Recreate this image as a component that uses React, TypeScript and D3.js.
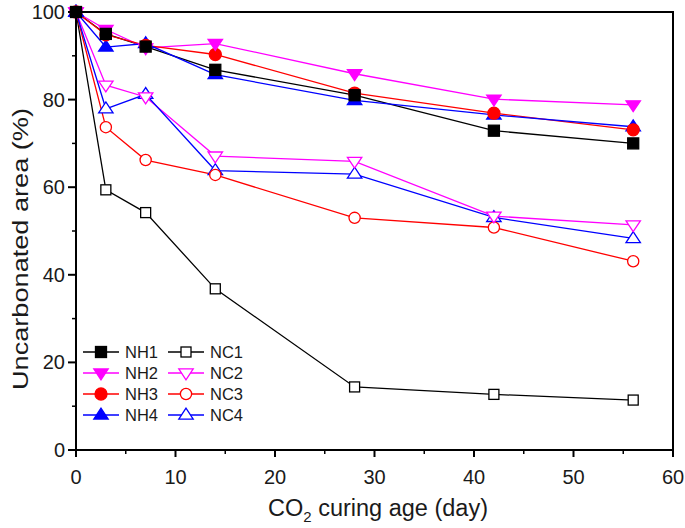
import React from "react";
import * as d3 from "d3";

const days = [0, 3, 7, 14, 28, 42, 56];
const NH1 = [100, 95.0, 92.1, 86.8, 81.0, 72.9, 70.0];
const NH2 = [100, 96.0, 91.8, 92.8, 85.9, 80.1, 78.8];
const NH3 = [100, 94.8, 92.4, 90.3, 81.5, 76.9, 73.1];
const NH4 = [100, 92.0, 92.8, 85.7, 79.8, 76.5, 73.8];
const NC1 = [100, 59.4, 54.2, 36.8, 14.4, 12.7, 11.4];
const NC2 = [100, 83.3, 80.6, 67.1, 65.9, 53.4, 51.4];
const NC3 = [100, 73.7, 66.2, 62.8, 53.0, 50.8, 43.1];
const NC4 = [100, 77.9, 81.2, 63.8, 63.0, 53.1, 48.3];

const xTicks = [0, 10, 20, 30, 40, 50, 60];
const yTicks = [0, 20, 40, 60, 80, 100];

type Shape = "square" | "down" | "circle" | "up";
const series: { name: string; values: number[]; color: string; shape: Shape; filled: boolean }[] = [
  { name: "NH1", values: NH1, color: "#000000", shape: "square", filled: true },
  { name: "NH2", values: NH2, color: "#ff00ff", shape: "down", filled: true },
  { name: "NH3", values: NH3, color: "#ff0000", shape: "circle", filled: true },
  { name: "NH4", values: NH4, color: "#0000ff", shape: "up", filled: true },
  { name: "NC1", values: NC1, color: "#000000", shape: "square", filled: false },
  { name: "NC2", values: NC2, color: "#ff00ff", shape: "down", filled: false },
  { name: "NC3", values: NC3, color: "#ff0000", shape: "circle", filled: false },
  { name: "NC4", values: NC4, color: "#0000ff", shape: "up", filled: false },
];

const W = 685, H = 528;
const L = 76, R = 673, T = 12, B = 450;

function Marker({ x, y, shape, color, filled }: { x: number; y: number; shape: Shape; color: string; filled: boolean }) {
  const fill = filled ? color : "#ffffff";
  const sw = 1.3;
  if (shape === "square") {
    const s = filled ? 11 : 10;
    return <rect x={x - s / 2} y={y - s / 2} width={s} height={s} fill={fill} stroke={color} strokeWidth={sw} />;
  }
  if (shape === "circle") {
    return <circle cx={x} cy={y} r={filled ? 6 : 5.6} fill={fill} stroke={color} strokeWidth={sw} />;
  }
  const h = 6.8;
  const w = 7.2;
  const pts =
    shape === "up"
      ? [[x, y - h], [x - w, y + h * 0.6], [x + w, y + h * 0.6]]
      : [[x, y + h], [x - w, y - h * 0.6], [x + w, y - h * 0.6]];
  return <polygon points={pts.map((p) => p.join(",")).join(" ")} fill={fill} stroke={color} strokeWidth={sw} />;
}

export default function App() {
  const x = d3.scaleLinear().domain([0, 60]).range([L, R]);
  const y = d3.scaleLinear().domain([0, 100]).range([B, T]);
  const line = d3
    .line<number>()
    .x((_, i) => x(days[i]))
    .y((d) => y(d));
  const xMinor = d3.range(5, 60, 10);
  const yMinor = d3.range(10, 100, 20);
  const font = "'Liberation Sans', Arial, sans-serif";
  const txt = "#1a1a1a";

  return (
    <svg width={W} height={H} style={{ position: "absolute", left: 0, top: 0 }} fontFamily={font}>
      <rect width={W} height={H} fill="#fff" />
      {series.map((s) => (
        <path key={s.name + "l"} d={line(s.values) || ""} fill="none" stroke={s.color} strokeWidth={1.3} />
      ))}
      {series
        .slice()
        .reverse()
        .map((s) =>
          s.values.map((v, i) => (
            <Marker key={s.name + i} x={x(days[i])} y={y(v)} shape={s.shape} color={s.color} filled={s.filled} />
          ))
        )}
      <rect x={L} y={T} width={R - L} height={B - T} fill="none" stroke="#000" strokeWidth={2} />
      {xTicks.map((t) => (
        <g key={"x" + t}>
          <line x1={x(t)} x2={x(t)} y1={B} y2={B + 7} stroke="#000" strokeWidth={2} />
          <text x={x(t)} y={484} textAnchor="middle" fontSize={20} fill={txt}>
            {t}
          </text>
        </g>
      ))}
      {xMinor.map((t) => (
        <line key={"xm" + t} x1={x(t)} x2={x(t)} y1={B} y2={B + 4} stroke="#000" strokeWidth={1.5} />
      ))}
      {yTicks.map((t) => (
        <g key={"y" + t}>
          <line x1={L - 8} x2={L} y1={y(t)} y2={y(t)} stroke="#000" strokeWidth={2} />
          <text x={L - 11} y={y(t) + 7} textAnchor="end" fontSize={20} fill={txt}>
            {t}
          </text>
        </g>
      ))}
      {yMinor.map((t) => (
        <line key={"ym" + t} x1={L - 4} x2={L} y1={y(t)} y2={y(t)} stroke="#000" strokeWidth={1.5} />
      ))}
      <text x={378} y={516} textAnchor="middle" fontSize={23.5} fill={txt}>
        CO<tspan fontSize={15} dy={6}>2</tspan>
        <tspan dy={-6}> curing age (day)</tspan>
      </text>
      <text
        transform={`translate(28, 249) rotate(-90)`}
        textAnchor="middle"
        fontSize={22}
        textLength={282}
        lengthAdjust="spacingAndGlyphs"
        fill={txt}
      >
        Uncarbonated area (%)
      </text>
      {series.map((s, i) => {
        const col = Math.floor(i / 4);
        const row = i % 4;
        const lx = col === 0 ? 83 : 168;
        const ly = 352 + row * 21;
        return (
          <g key={s.name + "leg"}>
            <line x1={lx} x2={lx + 36} y1={ly} y2={ly} stroke={s.color} strokeWidth={1.3} />
            <Marker x={lx + 18} y={ly} shape={s.shape} color={s.color} filled={s.filled} />
            <text x={lx + 42} y={ly + 6} fontSize={16.5} fill={txt}>
              {s.name}
            </text>
          </g>
        );
      })}
    </svg>
  );
}
